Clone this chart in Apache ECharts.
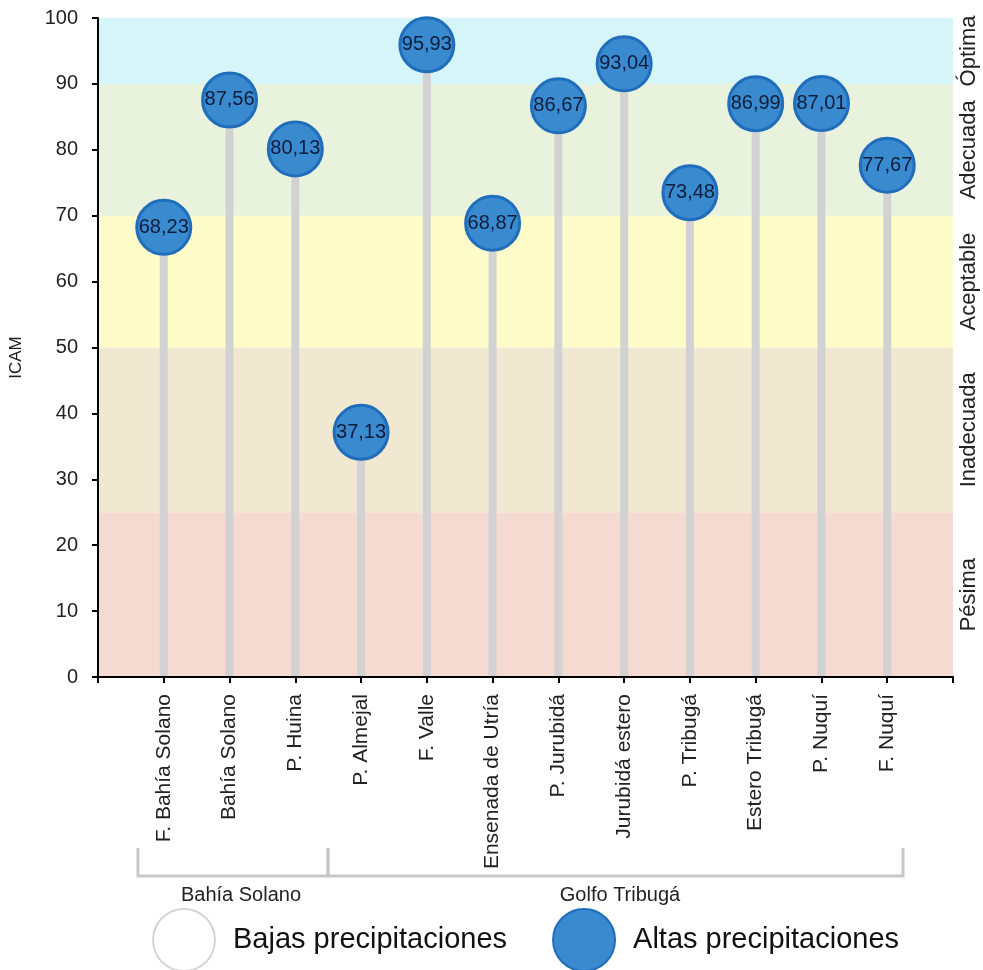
<!DOCTYPE html>
<html>
<head>
<meta charset="utf-8">
<script src="https://cdn.jsdelivr.net/npm/echarts@6/dist/echarts.min.js"></script>
<style>html,body{margin:0;padding:0;background:#fff}#c{width:983px;height:970px}</style>
</head>
<body>
<div id="c"></div>
<script>
const categories = ['', 'F. Bahía Solano', 'Bahía Solano', 'P. Huina', 'P. Almejal', 'F. Valle', 'Ensenada de Utría', 'P. Jurubidá', 'Jurubidá estero', 'P. Tribugá', 'Estero Tribugá', 'P. Nuquí', 'F. Nuquí', ''];
const altas = ['-', 68.23, 87.56, 80.13, 37.13, 95.93, 68.87, 86.67, 93.04, 73.48, 86.99, 87.01, 77.67, '-'];
const bajas = [];
const bands = [
  { name: 'Pésima', from: 0, to: 25, color: '#f4dad0' },
  { name: 'Inadecuada', from: 25, to: 50, color: '#f1e8d1' },
  { name: 'Aceptable', from: 50, to: 70, color: '#fefcc9' },
  { name: 'Adecuada', from: 70, to: 90, color: '#e9f2dd' },
  { name: 'Óptima', from: 90, to: 100, color: '#d6f5f9' }
];
const yTicks = { min: 0, max: 100, interval: 10 };
const groups = [
  { name: 'Bahía Solano', x0: 138, x1: 328, labelX: 241 },
  { name: 'Golfo Tribugá', x0: 328, x1: 903, labelX: 620 }
];

const FONT = '"Liberation Sans", Arial, sans-serif';
const chart = echarts.init(document.getElementById('c'), null, { renderer: 'canvas' });

const graphic = [];
groups.forEach(g => {
  graphic.push({
    type: 'polyline', z: 5,
    shape: { points: [[g.x0, 848], [g.x0, 876], [g.x1, 876], [g.x1, 848]] },
    style: { stroke: '#c8c8c8', lineWidth: 3, fill: null }
  });
  graphic.push({
    type: 'text', z: 5,
    x: g.labelX, y: 895,
    style: { text: g.name, font: '20px ' + FONT, fill: '#222', align: 'center', verticalAlign: 'middle' }
  });
});

chart.setOption({
  animation: false,
  backgroundColor: '#fff',
  textStyle: { fontFamily: FONT },
  grid: { left: 96, right: 30, top: 18, bottom: 293 },
  legend: {
    left: 152, top: 908, padding: 0,
    itemWidth: 62, itemHeight: 62, itemGap: 45,
    icon: 'circle',
    data: ['Bajas precipitaciones', 'Altas precipitaciones'],
    textStyle: { fontSize: 29, color: '#111', fontFamily: FONT, padding: [0, 0, 0, 13] }
  },
  xAxis: {
    type: 'category', data: categories, boundaryGap: false, z: 10,
    axisLine: { lineStyle: { color: '#000', width: 2 } },
    axisTick: { show: true, length: 6, lineStyle: { color: '#000', width: 2 }, interval: 0 },
    axisLabel: { rotate: 90, interval: 0, margin: 17, fontSize: 21, color: '#222', fontFamily: FONT },
    splitLine: { show: false }
  },
  yAxis: {
    type: 'value', min: yTicks.min, max: yTicks.max, interval: yTicks.interval, z: 10,
    name: 'ICAM', nameLocation: 'middle', nameGap: 73, nameRotate: 90,
    nameTextStyle: { fontSize: 17, color: '#222', fontFamily: FONT, padding: [0, 20, 0, 0] },
    axisLine: { show: true, lineStyle: { color: '#000', width: 2 } },
    axisTick: { show: true, length: 6, lineStyle: { color: '#000', width: 2 } },
    axisLabel: { margin: 20, fontSize: 20, color: '#222', fontFamily: FONT },
    splitLine: { show: false }
  },
  graphic: graphic,
  series: [
    {
      type: 'line', data: [], z: 0, silent: true,
      markArea: {
        silent: true,
        data: bands.map(b => [
          { yAxis: b.from, name: b.name, itemStyle: { color: b.color, opacity: 1 } },
          { yAxis: b.to }
        ]),
        label: {
          show: true, position: 'right', rotate: 90, distance: 16,
          align: 'center', verticalAlign: 'middle',
          fontSize: 22, color: '#222', fontFamily: FONT
        }
      }
    },
    {
      name: 'stems', type: 'bar', data: altas, barWidth: 8, z: 2, silent: true,
      itemStyle: { color: '#d2d2d2' }
    },
    {
      name: 'Bajas precipitaciones', type: 'scatter', data: bajas, symbolSize: 58,
      itemStyle: { color: '#ffffff', borderColor: '#d4d4d4', borderWidth: 3, opacity: 1 }
    },
    {
      name: 'Altas precipitaciones', type: 'scatter', data: altas, symbolSize: 54, z: 3,
      itemStyle: { color: '#3a8ad0', borderColor: '#1f6dbb', borderWidth: 3, opacity: 1 },
      label: {
        show: true, position: 'inside', fontSize: 20, color: '#0f1d3a', fontFamily: FONT,
        formatter: p => Number(p.value).toFixed(2).replace('.', ',')
      }
    }
  ]
});
</script>
</body>
</html>
